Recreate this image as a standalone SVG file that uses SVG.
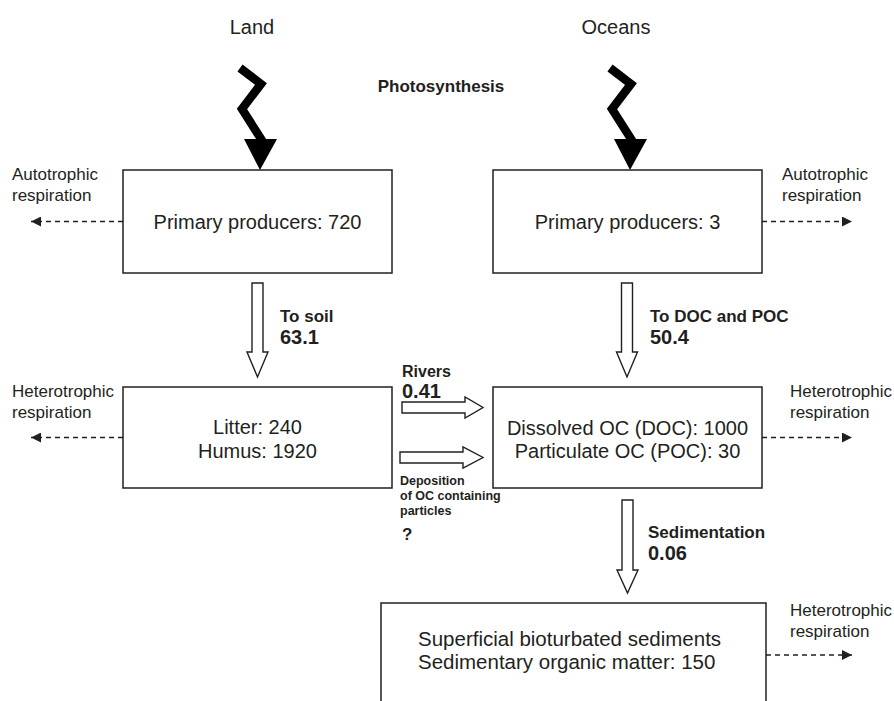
<svg xmlns="http://www.w3.org/2000/svg" width="894" height="701" viewBox="0 0 894 701">
<style>
text{font-family:"Liberation Sans",Arial,sans-serif;fill:#231f20}
.t{font-size:20px}
.box{fill:#fff;stroke:#231f20;stroke-width:1.5}
.side{font-size:17px}
.lab{font-size:17px;font-weight:bold}
.num{font-size:20px;font-weight:bold}
.sm{font-size:12.5px;font-weight:bold}
.hol{fill:#fff;stroke:#231f20;stroke-width:1.4;stroke-linejoin:miter}
.dash{fill:none;stroke:#231f20;stroke-width:1.3;stroke-dasharray:5 4}
.bolt{fill:none;stroke:#000;stroke-width:8.5;stroke-linejoin:miter;stroke-miterlimit:10}
</style>
<defs>
<marker id="ah" markerWidth="12" markerHeight="10" refX="10" refY="5" orient="auto" markerUnits="userSpaceOnUse">
<path d="M0,0 L10,5 L0,10 Z" fill="#231f20"/>
</marker>
</defs>
<rect width="894" height="701" fill="#fff"/>
<text class="t" x="252" y="34" text-anchor="middle">Land</text>
<text class="t" x="616" y="34" text-anchor="middle">Oceans</text>
<text class="lab" x="441" y="92" text-anchor="middle">Photosynthesis</text>

<g id="connectors">
<polyline class="bolt" points="240,68 261,84 242,109 263,142"/>
<polygon points="244,139 277,139 260,170" fill="#000"/>
<polyline class="bolt" points="610,68 631,84 612,109 633,142"/>
<polygon points="614,139 647,139 630,170" fill="#000"/>

<polygon class="hol" points="252,283 263,283 263,352 268,352 257.5,377 247,352 252,352"/>
<polygon class="hol" points="621.5,283 632.5,283 632.5,352 637.5,352 627,377 616.5,352 621.5,352"/>
<polygon class="hol" points="622,500 633,500 633,570 638,570 627.5,593 617,570 622,570"/>
<polygon class="hol" points="402,402 465,402 465,397 483,407.5 465,418 465,413 402,413"/>
<polygon class="hol" points="400,452 463,452 463,447 483,457.5 463,468 463,463 400,463"/>

<line class="dash" x1="123" y1="221.5" x2="31" y2="221.5" marker-end="url(#ah)"/>
<line class="dash" x1="762" y1="221.5" x2="852" y2="221.5" marker-end="url(#ah)"/>
<line class="dash" x1="123" y1="437.5" x2="31" y2="437.5" marker-end="url(#ah)"/>
<line class="dash" x1="762" y1="437.5" x2="852" y2="437.5" marker-end="url(#ah)"/>
<line class="dash" x1="766" y1="655" x2="852" y2="655" marker-end="url(#ah)"/>
</g>

<g id="land-producers">
<rect class="box" x="123" y="170" width="269" height="103"/>
<text class="t" x="257.5" y="229" text-anchor="middle">Primary producers: 720</text>
</g>
<g id="ocean-producers">
<rect class="box" x="493" y="170" width="269" height="103"/>
<text class="t" x="627.5" y="229" text-anchor="middle">Primary producers: 3</text>
</g>
<g id="litter">
<rect class="box" x="123" y="387" width="269" height="101"/>
<text class="t" x="257.5" y="434" text-anchor="middle">Litter: 240</text>
<text class="t" x="257.5" y="458" text-anchor="middle">Humus: 1920</text>
</g>
<g id="doc-poc">
<rect class="box" x="493" y="387" width="269" height="101"/>
<text class="t" x="627.5" y="435" text-anchor="middle">Dissolved OC (DOC): 1000</text>
<text class="t" x="627.5" y="458" text-anchor="middle">Particulate OC (POC): 30</text>
</g>
<g id="sediments">
<rect class="box" x="381" y="603" width="385" height="110"/>
<text class="t" x="418" y="646" style="font-size:20.5px">Superficial bioturbated sediments</text>
<text class="t" x="418" y="669" style="font-size:20.5px">Sedimentary organic matter: 150</text>
</g>

<g id="labels">
<text class="side" x="12" y="180">Autotrophic</text>
<text class="side" x="12" y="201">respiration</text>
<text class="side" x="782" y="180">Autotrophic</text>
<text class="side" x="782" y="201">respiration</text>
<text class="side" x="12" y="397">Heterotrophic</text>
<text class="side" x="12" y="418">respiration</text>
<text class="side" x="790" y="397">Heterotrophic</text>
<text class="side" x="790" y="418">respiration</text>
<text class="side" x="790" y="616">Heterotrophic</text>
<text class="side" x="790" y="637">respiration</text>

<text class="lab" x="280" y="322">To soil</text>
<text class="num" x="280" y="344">63.1</text>
<text class="lab" x="650" y="322">To DOC and POC</text>
<text class="num" x="650" y="344">50.4</text>
<text class="lab" x="648" y="538">Sedimentation</text>
<text class="num" x="648" y="560">0.06</text>
<text class="lab" x="402" y="377" style="font-size:16px">Rivers</text>
<text class="num" x="402" y="398">0.41</text>
<text class="sm" x="400" y="485">Deposition</text>
<text class="sm" x="400" y="500">of OC containing</text>
<text class="sm" x="400" y="515">particles</text>
<text class="num" x="402" y="540" style="font-size:17px">?</text>
</g>
</svg>
